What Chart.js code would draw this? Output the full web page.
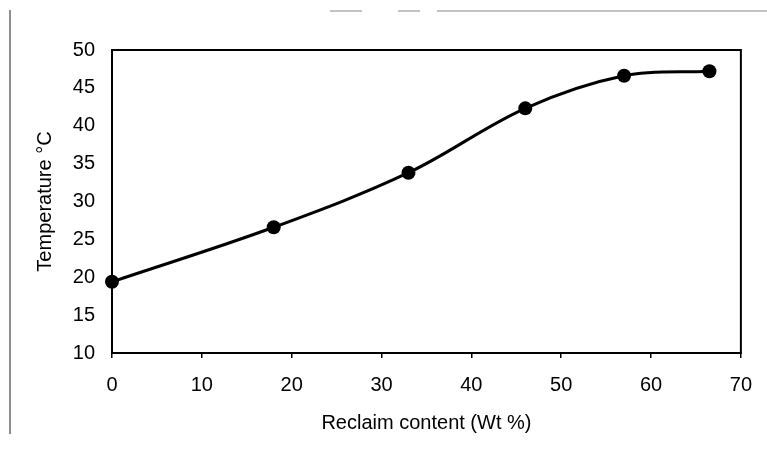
<!DOCTYPE html>
<html>
<head>
<meta charset="utf-8">
<script src="https://cdn.jsdelivr.net/npm/chart.js@4/dist/chart.umd.min.js"></script>
<style>
  html, body { margin: 0; padding: 0; background: #fff; }
  #wrap { width: 767px; height: 458px; }
</style>
</head>
<body>
<div id="wrap"><canvas id="grafico"></canvas></div>
<script>
// data
const reclaimContent = [0, 18, 33, 46, 57, 66.5];
const temperature = [19.4, 26.6, 33.8, 42.3, 46.6, 47.2];
const xTicks = [0, 10, 20, 30, 40, 50, 60, 70];
const yTicks = [10, 15, 20, 25, 30, 35, 40, 45, 50];

const fonte = { family: '"Liberation Sans", Arial, sans-serif', size: 20 };

// caixa em volta da area do grafico + riscos da digitalizacao
const moldura = {
  id: 'moldura',
  beforeDraw(chart) {
    const c = chart.ctx;
    c.save();
    c.strokeStyle = '#444';
    c.lineWidth = 1.2;
    c.beginPath();
    c.moveTo(10, 10); c.lineTo(10, 434);
    c.stroke();
    c.strokeStyle = '#888';
    c.lineWidth = 1;
    c.beginPath();
    c.moveTo(330, 11); c.lineTo(362, 11);
    c.moveTo(398, 11); c.lineTo(420, 11);
    c.moveTo(437, 11); c.lineTo(767, 11);
    c.stroke();
    c.restore();
  },
  afterDatasetsDraw(chart) {
    const a = chart.chartArea;
    const c = chart.ctx;
    c.save();
    c.strokeStyle = '#000';
    c.lineWidth = 2;
    c.strokeRect(a.left, a.top, a.right - a.left, a.bottom - a.top);
    c.restore();
  }
};

const config = {
  type: 'line',
  data: {
    datasets: [{
      data: reclaimContent.map((x, i) => ({ x: x, y: temperature[i] })),
      borderColor: '#000',
      backgroundColor: '#000',
      borderWidth: 3,
      pointRadius: 7,
      pointBackgroundColor: '#000',
      pointBorderWidth: 0,
      tension: 0.35,
      clip: false
    }]
  },
  options: {
    responsive: true,
    maintainAspectRatio: false,
    animation: false,
    layout: { padding: { top: 50, right: 26, left: 0, bottom: 0 } },
    plugins: { legend: { display: false }, tooltip: { enabled: false } },
    scales: {
      x: {
        type: 'linear',
        min: 0, max: 70,
        afterBuildTicks: s => { s.ticks = xTicks.map(v => ({ value: v })); },
        afterFit: s => { s.height = 105; },
        grid: { drawOnChartArea: false, color: '#000', tickLength: 5, lineWidth: 1.5 },
        border: { color: '#000', width: 2 },
        ticks: { color: '#000', font: fonte, padding: 15, maxRotation: 0 },
        title: { display: true, text: 'Reclaim content (Wt %)', color: '#000', font: fonte, padding: { top: 0, bottom: 23 } }
      },
      y: {
        min: 10, max: 50,
        afterBuildTicks: s => { s.ticks = yTicks.map(v => ({ value: v })); },
        afterFit: s => { s.width = 112; },
        grid: { drawOnChartArea: false, drawTicks: false },
        border: { color: '#000', width: 2 },
        ticks: { color: '#000', font: fonte, padding: 17 },
        title: { display: true, text: 'Temperature °C', color: '#000', font: fonte, padding: { top: 33, bottom: 0 } }
      }
    }
  },
  plugins: [moldura]
};

var meuGrafico = new Chart(document.getElementById('grafico'), config);
</script>
</body>
</html>
